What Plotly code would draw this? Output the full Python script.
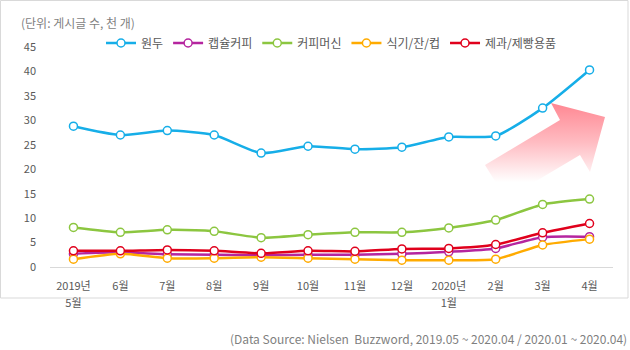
import plotly.graph_objects as go

months = ["2019년<br>5월", "6월", "7월", "8월", "9월", "10월", "11월", "12월", "2020년<br>1월", "2월", "3월", "4월"]
series_names = ["원두", "캡슐커피", "커피머신", "식기/잔/컵", "제과/제빵용품"]
wondu = [28.8, 27.0, 27.9, 27.0, 23.3, 24.7, 24.1, 24.5, 26.6, 26.8, 32.5, 40.3]
capsule = [2.7, 3.0, 2.6, 2.5, 2.4, 2.5, 2.5, 2.7, 3.1, 3.8, 6.1, 6.2]
machine = [8.1, 7.1, 7.6, 7.3, 6.0, 6.6, 7.1, 7.1, 8.0, 9.6, 12.8, 13.9]
tableware = [1.6, 2.7, 1.8, 1.8, 2.0, 1.8, 1.6, 1.4, 1.4, 1.6, 4.5, 5.7]
bakery = [3.3, 3.3, 3.5, 3.3, 2.8, 3.3, 3.2, 3.7, 3.8, 4.6, 7.0, 8.9]
colors = ["#16aee8", "#b5259f", "#8cc640", "#ffab00", "#e0001c"]
y_ticks = [0, 5, 10, 15, 20, 25, 30, 35, 40, 45]

# plot area in pixels
L, R, T, B = 50, 613, 47, 267
W, H = 630, 350

fig = go.Figure()

# decorative arrow on an overlay axis in pixel units
arrow_x = [485, 560, 551, 605, 590, 580, 506, 485]
arrow_y = [165, 120, 103, 117, 172, 155, 199, 165]
fig.add_trace(go.Scatter(
    x=arrow_x, y=arrow_y, xaxis="x2", yaxis="y2", mode="lines",
    fill="toself", line=dict(width=0, color="rgba(0,0,0,0)"),
    fillgradient=dict(type="vertical", start=103, stop=182,
                      colorscale=[[0, "#ff8792"], [0.5, "#ffbcc2"], [1, "#ffffff"]]),
    showlegend=False, hoverinfo="skip"))

for name, vals, c in zip(series_names, [wondu, capsule, machine, tableware, bakery], colors):
    fig.add_trace(go.Scatter(
        x=months, y=vals, name=name, mode="lines+markers",
        line=dict(color=c, width=2.5, shape="spline", smoothing=0.6),
        marker=dict(symbol="circle", size=8, color="white", line=dict(color=c, width=1.5)),
    ))

tick_text = ["<span style='font-size:11px'>" + m + "</span>" for m in months]

def px_x(p):
    return (p - L) / (R - L)

def px_y(p):
    return (B - p) / (B - T)

fig.update_layout(
    width=W, height=H,
    margin=dict(l=L, r=W - R, t=T, b=H - B, pad=0),
    paper_bgcolor="white", plot_bgcolor="white",
    font=dict(family="Noto Sans CJK KR, Noto Sans, sans-serif", size=11, color="#595959"),
    showlegend=True,
    legend=dict(orientation="h", x=px_x(101), y=px_y(43), xanchor="left", yanchor="middle",
                font=dict(size=12, color="#595959"), bgcolor="rgba(0,0,0,0)",
                itemwidth=30, tracegroupgap=0),
    xaxis=dict(type="category", range=[-0.5, 11.5], showgrid=False, zeroline=False,
               showline=True, linecolor="#d9d9d9", linewidth=1, ticks="",
               tickvals=months, ticktext=tick_text,
               tickfont=dict(size=13, color="#595959"), ticklabelstandoff=6, fixedrange=True),
    yaxis=dict(range=[0, 45], tickvals=y_ticks, showgrid=False, zeroline=False,
               showline=False, ticks="", tickfont=dict(size=11, color="#595959"),
               ticklabelstandoff=13, fixedrange=True),
    xaxis2=dict(overlaying="x", range=[L, R], visible=False, anchor="y2"),
    yaxis2=dict(overlaying="y", range=[B, T], visible=False, anchor="x2"),
    shapes=[dict(type="rect", xref="paper", yref="paper",
                 x0=px_x(0.5), x1=px_x(628), y0=px_y(0.5), y1=px_y(298),
                 line=dict(color="#d9d9d9", width=1), fillcolor="rgba(0,0,0,0)", layer="below")],
    annotations=[
        dict(text="(단위: 게시글 수, 천 개)", xref="paper", yref="paper",
             x=px_x(19), y=px_y(22), xanchor="left", yanchor="middle", showarrow=False,
             font=dict(size=12, color="#7f7f7f")),
        dict(text="(Data Source: Nielsen  Buzzword, 2019.05 ~ 2020.04 / 2020.01 ~ 2020.04)",
             xref="paper", yref="paper", x=px_x(629), y=px_y(338),
             xanchor="right", yanchor="middle", showarrow=False,
             font=dict(size=12, color="#7f7f7f")),
    ],
)

fig.write_html("out.html")
